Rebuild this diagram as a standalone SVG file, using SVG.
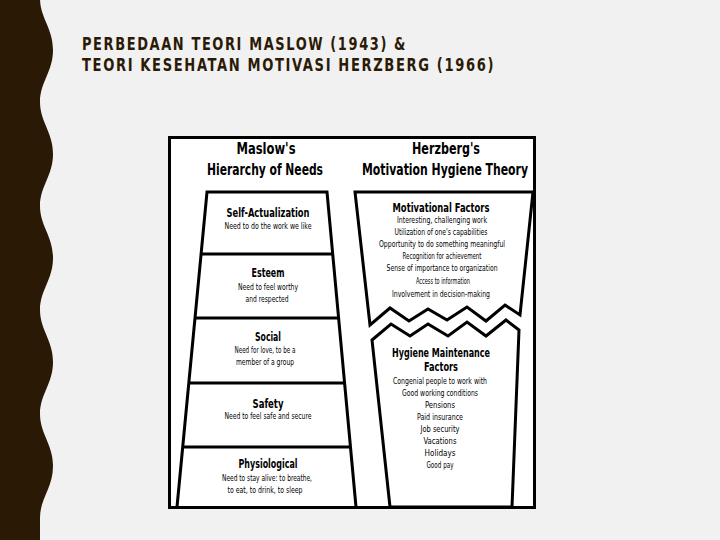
<svg xmlns="http://www.w3.org/2000/svg" width="720" height="540" viewBox="0 0 720 540">
<style>
.title{font-family:"Liberation Sans Narrow","DejaVu Sans Condensed","Liberation Sans",sans-serif;font-weight:bold;font-size:18px;fill:#2b1a06;letter-spacing:2px}
.h{font-family:"Liberation Sans Narrow","DejaVu Sans Condensed","Liberation Sans",sans-serif;font-weight:bold;font-size:16px;fill:#000;text-anchor:middle}
.s{font-family:"Liberation Sans Narrow","DejaVu Sans Condensed","Liberation Sans",sans-serif;font-weight:bold;font-size:12px;fill:#000;text-anchor:middle}
.b{font-family:"Liberation Sans Narrow","DejaVu Sans Condensed","Liberation Sans",sans-serif;font-size:9.5px;fill:#000;text-anchor:middle}
.ln{fill:none;stroke:#000;stroke-width:3;stroke-linejoin:miter}
</style>
<rect width="720" height="540" fill="#f1f1f1"/>
<path id="band" fill="#2a1a05" d="M0,0 L40,0 L40,-2 C40,18 53,28 53,50 C53,72 40,82 40,102 C40,122 53,132 53,154 C53,176 40,186 40,206 C40,226 53,236 53,258 C53,280 40,290 40,310 C40,330 53,340 53,362 C53,384 40,394 40,414 C40,434 53,444 53,466 C53,488 40,498 40,518 L40,540 L0,540 Z"/>
<g id="title">
<text class="title" x="82" y="50" textLength="325" lengthAdjust="spacingAndGlyphs">PERBEDAAN TEORI MASLOW (1943) &amp;</text>
<text class="title" x="82" y="71" textLength="413" lengthAdjust="spacingAndGlyphs">TEORI KESEHATAN MOTIVASI HERZBERG (1966)</text>
</g>
<g id="chart">
<rect x="169.5" y="137.5" width="365" height="370" fill="#fff" stroke="#000" stroke-width="3"/>
</g>
<g id="maslow">
<text class="h" x="266" y="154" textLength="59" lengthAdjust="spacingAndGlyphs">Maslow's</text>
<text class="h" x="265" y="175" textLength="116" lengthAdjust="spacingAndGlyphs">Hierarchy of Needs</text>
<path class="ln" d="M177,507 L207,192 L327,192 L356,507"/>
<line class="ln" x1="201" y1="254" x2="333" y2="254"/>
<line class="ln" x1="195" y1="318" x2="339" y2="318"/>
<line class="ln" x1="189" y1="383" x2="345" y2="383"/>
<line class="ln" x1="183" y1="447" x2="351" y2="447"/>
</g>
<g id="self-actualization">
<text class="s" x="268" y="217" textLength="83" lengthAdjust="spacingAndGlyphs">Self-Actualization</text>
<text class="b" x="268" y="229" textLength="87" lengthAdjust="spacingAndGlyphs">Need to do the work we like</text>
</g>
<g id="esteem">
<text class="s" x="268" y="277" textLength="33" lengthAdjust="spacingAndGlyphs">Esteem</text>
<text class="b" x="268" y="290" textLength="60" lengthAdjust="spacingAndGlyphs">Need to feel worthy</text>
<text class="b" x="267" y="302" textLength="43" lengthAdjust="spacingAndGlyphs">and respected</text>
</g>
<g id="social">
<text class="s" x="268" y="341" textLength="26" lengthAdjust="spacingAndGlyphs">Social</text>
<text class="b" x="265" y="353" textLength="61" lengthAdjust="spacingAndGlyphs">Need for love, to be a</text>
<text class="b" x="265" y="365" textLength="58" lengthAdjust="spacingAndGlyphs">member of a group</text>
</g>
<g id="safety">
<text class="s" x="268" y="408" textLength="31" lengthAdjust="spacingAndGlyphs">Safety</text>
<text class="b" x="268" y="419" textLength="87" lengthAdjust="spacingAndGlyphs">Need to feel safe and secure</text>
</g>
<g id="physiological">
<text class="s" x="268" y="468" textLength="59" lengthAdjust="spacingAndGlyphs">Physiological</text>
<text class="b" x="267" y="481" textLength="90" lengthAdjust="spacingAndGlyphs">Need to stay alive: to breathe,</text>
<text class="b" x="265" y="493" textLength="75" lengthAdjust="spacingAndGlyphs">to eat, to drink, to sleep</text>
</g>
<g id="herzberg">
<text class="h" x="446" y="154" textLength="68" lengthAdjust="spacingAndGlyphs">Herzberg's</text>
<text class="h" x="445" y="175" textLength="166" lengthAdjust="spacingAndGlyphs">Motivation Hygiene Theory</text>
</g>
<g id="motivational-factors">
<path class="ln" d="M370,325 L355,192 L533,192 L520,315 L505,305 L486,321 L467,307 L447,320 L428,309 L409,321 L390,308 Z"/>
<text class="s" x="441" y="212" textLength="97" lengthAdjust="spacingAndGlyphs">Motivational Factors</text>
<text class="b" x="442" y="223" textLength="90" lengthAdjust="spacingAndGlyphs">Interesting, challenging work</text>
<text class="b" x="441" y="235" textLength="93" lengthAdjust="spacingAndGlyphs">Utilization of one's capabilities</text>
<text class="b" x="442" y="247" textLength="126" lengthAdjust="spacingAndGlyphs">Opportunity to do something meaningful</text>
<text class="b" x="442" y="259" textLength="79" lengthAdjust="spacingAndGlyphs">Recognition for achievement</text>
<text class="b" x="442" y="271" textLength="111" lengthAdjust="spacingAndGlyphs">Sense of importance to organization</text>
<text class="b" x="443" y="284" textLength="54" lengthAdjust="spacingAndGlyphs">Access to information</text>
<text class="b" x="441" y="297" textLength="98" lengthAdjust="spacingAndGlyphs">Involvement in decision-making</text>
</g>
<g id="hygiene-factors">
<path class="ln" d="M372,340 L391,324 L410,336 L428,324 L448,336 L467,322 L486,336 L506,320 L519,330 L512,507 L390,507 Z"/>
<text class="s" x="441" y="357" textLength="98" lengthAdjust="spacingAndGlyphs">Hygiene Maintenance</text>
<text class="s" x="441" y="371" textLength="34" lengthAdjust="spacingAndGlyphs">Factors</text>
<text class="b" x="440" y="384" textLength="94" lengthAdjust="spacingAndGlyphs">Congenial people to work with</text>
<text class="b" x="440" y="396" textLength="76" lengthAdjust="spacingAndGlyphs">Good working conditions</text>
<text class="b" x="440" y="408" textLength="30" lengthAdjust="spacingAndGlyphs">Pensions</text>
<text class="b" x="440" y="420" textLength="46" lengthAdjust="spacingAndGlyphs">Paid insurance</text>
<text class="b" x="440" y="432" textLength="39" lengthAdjust="spacingAndGlyphs">Job security</text>
<text class="b" x="440" y="444" textLength="33" lengthAdjust="spacingAndGlyphs">Vacations</text>
<text class="b" x="440" y="456" textLength="31" lengthAdjust="spacingAndGlyphs">Holidays</text>
<text class="b" x="440" y="468" textLength="27" lengthAdjust="spacingAndGlyphs">Good pay</text>
</g>
</svg>
